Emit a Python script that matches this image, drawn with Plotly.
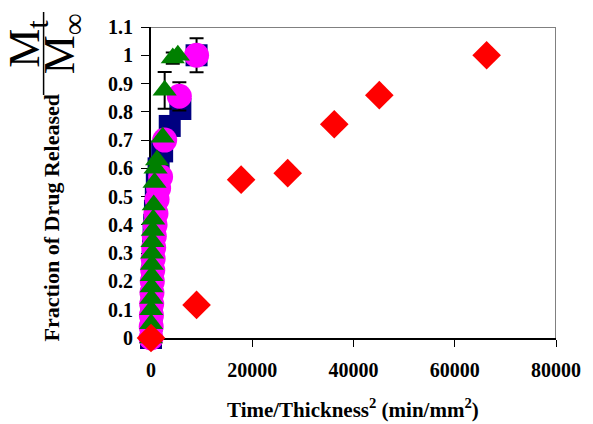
import plotly.graph_objects as go

# ---- data ----
blue_x = [0, 30, 60, 100, 150, 200, 260, 330, 420, 520, 640, 780, 950, 1150, 1500, 2200, 3700, 5800, 9000]
blue_y = [0, 0.03, 0.06, 0.10, 0.14, 0.18, 0.22, 0.27, 0.31, 0.36, 0.40, 0.45, 0.50, 0.55, 0.60, 0.66, 0.75, 0.81, 1.00]
blue_err = [None] * 16 + [0.03, None, None]

mag_x = [0, 40, 80, 130, 190, 260, 340, 430, 530, 650, 800, 980, 1200, 1500, 1900, 2700, 5600, 9000]
mag_y = [0, 0.04, 0.08, 0.12, 0.16, 0.20, 0.24, 0.28, 0.32, 0.36, 0.40, 0.44, 0.49, 0.53, 0.57, 0.70, 0.855, 1.00]
mag_err = [None] * 16 + [0.05, 0.06]

green_x = [0, 20, 40, 70, 100, 140, 180, 230, 290, 360, 440, 540, 700, 900, 1200, 2300, 2700, 4300, 5300]
green_y = [0, 0.05, 0.10, 0.14, 0.18, 0.22, 0.26, 0.30, 0.34, 0.38, 0.42, 0.47, 0.55, 0.60, 0.63, 0.71, 0.876, 0.99, 1.00]
green_err = [None] * 16 + [0.065, 0.02, None]

red_x = [0, 9000, 17800, 27000, 36200, 45100, 66300]
red_y = [0, 0.117, 0.56, 0.583, 0.756, 0.859, 1.00]

x_ticks = [0, 20000, 40000, 60000, 80000]
y_ticks = [0, 0.1, 0.2, 0.3, 0.4, 0.5, 0.6, 0.7, 0.8, 0.9, 1.0, 1.1]
y_ticklabels = ["0", "0.1", "0.2", "0.3", "0.4", "0.5", "0.6", "0.7", "0.8", "0.9", "1", "1.1"]

FONT = "Liberation Serif, Times New Roman, serif"

def err(arr):
    return dict(type="data", array=arr, visible=True, color="black", thickness=2, width=7)

fig = go.Figure()
fig.add_trace(go.Scatter(x=blue_x, y=blue_y, mode="markers", cliponaxis=False,
                         marker=dict(symbol="square", size=22, color="#000080"),
                         error_y=err(blue_err)))
fig.add_trace(go.Scatter(x=mag_x, y=mag_y, mode="markers", cliponaxis=False,
                         marker=dict(symbol="circle", size=25, color="#FF00FF"),
                         error_y=err(mag_err)))
fig.add_trace(go.Scatter(x=green_x, y=green_y, mode="markers", cliponaxis=False,
                         marker=dict(symbol="triangle-up", size=21, color="#008000"),
                         error_y=err(green_err)))
fig.add_trace(go.Scatter(x=red_x, y=red_y, mode="markers", cliponaxis=False,
                         marker=dict(symbol="diamond", size=22, color="#FF0000")))

W, H = 593, 424
L, R, T, B = 151, 31, 27, 86
pw, ph = W - L - R, H - T - B

def px(xp):
    return (xp - L) / pw

def py(yp):
    return (H - B - yp) / ph

tickfont = dict(family=FONT, size=20, color="black", weight="bold")
fig.update_layout(
    width=W, height=H, margin=dict(l=L, r=R, t=T, b=B),
    paper_bgcolor="white", plot_bgcolor="white", showlegend=False,
    font=dict(family=FONT, size=15, color="black"),
    xaxis=dict(range=[0, 80000], tickvals=x_ticks, ticktext=[str(v) for v in x_ticks],
               showgrid=False, zeroline=False, showline=True, linecolor="black", linewidth=2,
               ticks="outside", ticklen=7, tickwidth=1, tickcolor="black", layer="below traces",
               ticklabelstandoff=6, tickfont=tickfont),
    yaxis=dict(range=[0, 1.1], tickvals=y_ticks, ticktext=y_ticklabels,
               showgrid=False, zeroline=False, showline=True, linecolor="black", linewidth=2,
               ticks="outside", ticklen=8, tickwidth=1, tickcolor="black", layer="below traces",
               ticklabelstandoff=4, tickfont=tickfont),
)

# gray top/right frame
fig.add_shape(type="line", xref="x", yref="y", x0=0, x1=80000, y0=1.1, y1=1.1,
              line=dict(color="#808080", width=2), layer="below")
fig.add_shape(type="line", xref="x", yref="y", x0=80000, x1=80000, y0=0, y1=1.1,
              line=dict(color="#808080", width=2), layer="below")

def ann(x, y, text, size, angle=0):
    fig.add_annotation(xref="paper", yref="paper", x=px(x), y=py(y), showarrow=False,
                       xanchor="center", yanchor="middle", textangle=angle,
                       text=text, font=dict(family=FONT, size=size, color="black"))

# x axis title
ann(356, 408, "<b>Time/Thickness<sup>2</sup> (min/mm<sup>2</sup>)</b>", 21)
# y axis title
ann(50, 218, "<b>Fraction of Drug Released</b>", 22, angle=-90)
# fraction M_t / M_inf
ann(25, 44, "M<sub>t</sub>", 44, angle=-90)
ann(61, 44, "M<sub>∞</sub>", 44, angle=-90)
fig.add_shape(type="line", xref="paper", yref="paper", x0=px(42), x1=px(42), y0=py(12), y1=py(95),
              line=dict(color="black", width=1.5))

fig.write_html("out.html", config={"displayModeBar": False},
               post_script="document.body.style.margin='0';")
